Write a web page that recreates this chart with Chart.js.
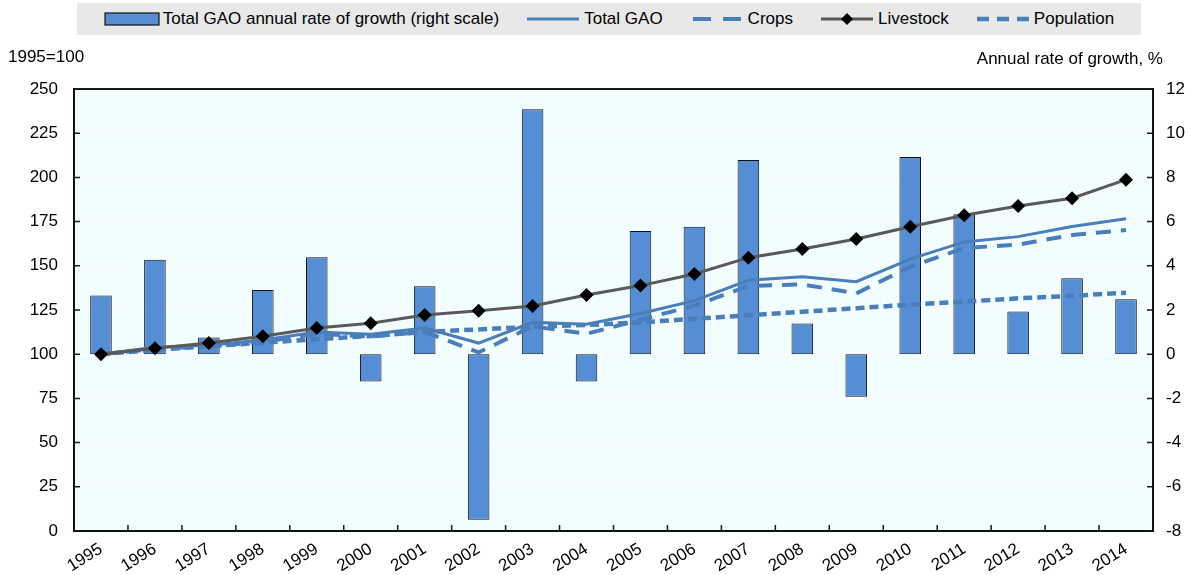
<!DOCTYPE html>
<html>
<head>
<meta charset="utf-8">
<script src="https://cdn.jsdelivr.net/npm/chart.js@4.4.1/dist/chart.umd.min.js"></script>
<style>
    body { margin: 0; background: #fff; font-family: 'Liberation Sans', Arial, sans-serif; }
    #wrap { position: relative; width: 1193px; height: 575px; }
    #chart { position: absolute; left: 0; top: 0; }
    #legend {
        position: absolute; left: 77px; top: 3px; width: 1064px; height: 32px;
        background: #e8e8e8; display: flex; align-items: center; justify-content: center;
        font-size: 17px; color: #000;
    }
    .item { display: flex; align-items: center; margin: 0 13px; }
    .item svg { margin-right: 3px; }
    .axis-title { position: absolute; font-size: 17px; color: #000; }
</style>
</head>
<body>
<div id="wrap">
    <canvas id="chart" width="1193" height="575"></canvas>
    <div id="legend"></div>
    <div class="axis-title" style="left:8px; top:47px;">1995=100</div>
    <div class="axis-title" style="right:30px; top:49px;">Annual rate of growth, %</div>
</div>
<script>
const years = ['1995','1996','1997','1998','1999','2000','2001','2002','2003','2004',
               '2005','2006','2007','2008','2009','2010','2011','2012','2013','2014'];

// annual rate of growth, % (right scale)
const gaoGrowth = [2.66, 4.27, 0.76, 2.91, 4.39, -1.24, 3.07, -7.49, 11.08, -1.24,
                   5.57, 5.77, 8.79, 1.39, -1.93, 8.92, 6.33, 1.93, 3.44, 2.49];

// indices, 1995=100 (left scale)
const totalGAO   = [100, 104, 105, 108, 112.5, 111.3, 114.8, 106.3, 118, 117,
                    123, 130.3, 141.8, 143.8, 141, 153.8, 163.5, 166.5, 172.2, 176.6];
const crops      = [100, 103, 104.5, 107, 111.5, 110, 112.7, 101, 115.8, 111.5,
                    119.5, 127.5, 138.6, 139.5, 134.4, 149.5, 160, 162, 167.4, 170.2];
const livestock  = [100, 103.3, 106.3, 110.1, 114.8, 117.5, 122.2, 124.6, 127.3, 133.5,
                    138.8, 145.4, 154.6, 159.5, 165.2, 172.1, 178.6, 183.8, 188.2, 198.7];
const population = [100, 102.5, 104.5, 106.5, 108.5, 110.3, 112.6, 114, 115.5, 116.5,
                    118, 120, 122, 124, 126, 128, 129.7, 131.6, 133, 134.8];

const leftTicks = [0, 25, 50, 75, 100, 125, 150, 175, 200, 225, 250];
const rightTicks = [-8, -6, -4, -2, 0, 2, 4, 6, 8, 10, 12];

const BLUE = '#4a7ebb';
const BAR = '#558ed5';
const GREY = '#595959';

Chart.defaults.font.family = "'Liberation Sans', Arial, sans-serif";
Chart.defaults.font.size = 17;
Chart.defaults.color = '#000';

// pale plot background, frame and inward tick marks
const frame = {
    id: 'frame',
    beforeDraw(chart) {
        const a = chart.chartArea, ctx = chart.ctx;
        ctx.save();
        ctx.fillStyle = '#f2fefe';
        ctx.fillRect(a.left, a.top, a.right - a.left, a.bottom - a.top);
        ctx.restore();
    },
    afterDraw(chart) {
        const a = chart.chartArea, ctx = chart.ctx;
        const y = chart.scales.y, y1 = chart.scales.y1, x = chart.scales.x;
        ctx.save();
        ctx.strokeStyle = '#1a1a1a';
        ctx.lineWidth = 1.5;
        ctx.beginPath();
        y.ticks.forEach((t, i) => {
            const p = y.getPixelForTick(i);
            ctx.moveTo(a.left, p); ctx.lineTo(a.left + 6, p);
        });
        y1.ticks.forEach((t, i) => {
            const p = y1.getPixelForTick(i);
            ctx.moveTo(a.right, p); ctx.lineTo(a.right - 6, p);
        });
        for (let i = 1; i < x.ticks.length; i++) {
            const p = (x.getPixelForTick(i - 1) + x.getPixelForTick(i)) / 2;
            ctx.moveTo(p, a.bottom); ctx.lineTo(p, a.bottom - 6);
        }
        ctx.stroke();
        ctx.lineWidth = 2;
        ctx.beginPath();
        ctx.moveTo(a.left, a.top); ctx.lineTo(a.right, a.top);
        ctx.stroke();
        ctx.restore();
    }
};

const datasets = [{
    type: 'bar',
    label: 'Total GAO annual rate of growth (right scale)',
    data: gaoGrowth,
    yAxisID: 'y1',
    backgroundColor: BAR,
    borderColor: '#111',
    borderWidth: 1,
    borderSkipped: false,
    categoryPercentage: 1,
    barPercentage: 0.4,
    order: 5
}, {
    type: 'line',
    label: 'Total GAO',
    data: totalGAO,
    yAxisID: 'y',
    borderColor: BLUE,
    borderWidth: 3,
    pointRadius: 0,
    tension: 0,
    order: 3
}, {
    type: 'line',
    label: 'Crops',
    data: crops,
    yAxisID: 'y',
    borderColor: BLUE,
    borderWidth: 4,
    borderDash: [15, 10],
    pointRadius: 0,
    tension: 0,
    order: 2
}, {
    type: 'line',
    label: 'Livestock',
    data: livestock,
    yAxisID: 'y',
    borderColor: GREY,
    borderWidth: 3,
    pointStyle: 'rectRot',
    pointRadius: 7,
    pointBackgroundColor: '#000',
    pointBorderColor: '#000',
    pointBorderWidth: 0,
    tension: 0,
    order: 0
}, {
    type: 'line',
    label: 'Population',
    data: population,
    yAxisID: 'y',
    borderColor: BLUE,
    borderWidth: 4.5,
    borderDash: [9, 5],
    pointRadius: 0,
    tension: 0,
    order: 1
}];

const chart = new Chart(document.getElementById('chart').getContext('2d'), {
    type: 'bar',
    data: { labels: years, datasets: datasets },
    options: {
        responsive: false,
        animation: false,
        layout: { padding: { top: 89 } },
        plugins: { legend: { display: false }, tooltip: { enabled: false } },
        scales: {
            x: {
                offset: true,
                grid: { color: '#ffffff', lineWidth: 1, offset: true, drawTicks: false },
                border: { display: true, color: '#111', width: 2 },
                ticks: { minRotation: 32, maxRotation: 32, padding: 8, autoSkip: false },
                afterFit(s) { s.height = 44; }
            },
            y: {
                position: 'left',
                min: 0, max: 250,
                afterBuildTicks(s) { s.ticks = leftTicks.map(v => ({ value: v })); },
                grid: { color: '#ffffff', lineWidth: 1, drawTicks: false },
                border: { display: true, color: '#111', width: 2 },
                ticks: { padding: 16 },
                afterFit(s) { s.width = 74; }
            },
            y1: {
                position: 'right',
                min: -8, max: 12,
                afterBuildTicks(s) { s.ticks = rightTicks.map(v => ({ value: v })); },
                grid: { display: false, drawTicks: false },
                border: { display: true, color: '#111', width: 2 },
                ticks: { padding: 13 },
                afterFit(s) { s.width = 40; }
            }
        }
    },
    plugins: [frame]
});

// legend in the grey box, built from the datasets
const legendDash = { 'Crops': '18 12', 'Population': '12 8' };
function swatch(ds) {
    if (ds.type === 'bar') {
        return `<svg width="56" height="16"><rect x="1" y="2" width="54" height="12" fill="${ds.backgroundColor}" stroke="#111" stroke-width="1.2"/></svg>`;
    }
    const dash = legendDash[ds.label] ? `stroke-dasharray="${legendDash[ds.label]}"` : '';
    const x1 = ds.label === 'Crops' ? 4 : 2;
    const marker = ds.pointStyle === 'rectRot'
        ? '<polygon points="28,2 34,8 28,14 22,8" fill="#000"/>' : '';
    return `<svg width="56" height="16"><line x1="${x1}" y1="8" x2="54" y2="8" stroke="${ds.borderColor}" stroke-width="${ds.borderWidth}" ${dash}/>${marker}</svg>`;
}
const legend = document.getElementById('legend');
datasets.forEach(ds => {
    const el = document.createElement('div');
    el.className = 'item';
    el.innerHTML = swatch(ds) + '<span>' + ds.label + '</span>';
    legend.appendChild(el);
});
</script>
</body>
</html>
